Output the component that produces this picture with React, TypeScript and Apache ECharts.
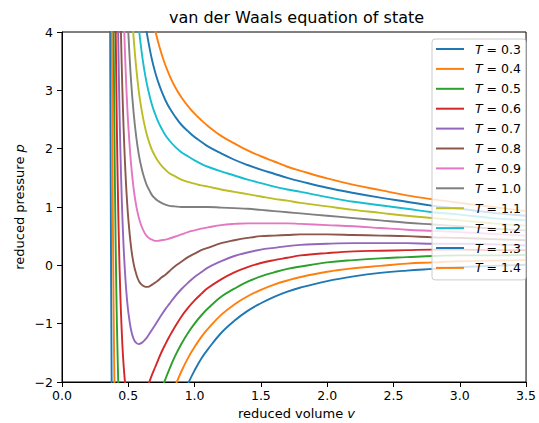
import React, { useEffect, useRef } from "react";
import * as echarts from "echarts";

// reduced volume samples
const V = [0.35, 0.36, 0.37, 0.38, 0.39, 0.40, 0.41, 0.42, 0.43, 0.44, 0.45, 0.46, 0.47, 0.48, 0.49, 0.50,
  0.52, 0.54, 0.56, 0.58, 0.60, 0.62, 0.64, 0.66, 0.68, 0.70, 0.72,
  0.75, 0.78, 0.81, 0.85, 0.90, 0.95, 1.00, 1.05, 1.10,
  1.20, 1.30, 1.40, 1.50, 1.60, 1.70, 1.80,
  2.00, 2.20, 2.40, 2.60, 2.80, 3.00, 3.25, 3.50];

const T_LABELS = ["0.3", "0.4", "0.5", "0.6", "0.7", "0.8", "0.9", "1.0", "1.1", "1.2", "1.3", "1.4"];

const P_03 = [23.51, 6.85, -0.10, -3.63, -5.61, -6.75, -7.41, -7.78, -7.95, -8.00, -7.96, -7.86, -7.73, -7.57, -7.39, -7.20,
  -6.81, -6.42, -6.04, -5.67, -5.33, -5.01, -4.72, -4.44, -4.18, -3.94, -3.72,
  -3.41, -3.14, -2.89, -2.60, -2.29, -2.03, -1.80, -1.60, -1.44,
  -1.16, -0.95, -0.78, -0.65, -0.54, -0.45, -0.38,
  -0.27, -0.19, -0.13, -0.09, -0.06, -0.03, -0.01, 0.01];
const P_04 = [39.51, 16.85, 7.18, 2.08, -0.90, -2.75, -3.93, -4.70, -5.19, -5.50, -5.67, -5.76, -5.78, -5.75, -5.69, -5.60,
  -5.38, -5.13, -4.86, -4.59, -4.33, -4.08, -3.85, -3.62, -3.41, -3.21, -3.03,
  -2.77, -2.54, -2.33, -2.09, -1.82, -1.59, -1.40, -1.23, -1.09,
  -0.85, -0.67, -0.53, -0.42, -0.33, -0.26, -0.20,
  -0.11, -0.05, -0.01, 0.03, 0.05, 0.07, 0.08, 0.09];
const P_05 = [55.51, 26.85, 14.45, 7.80, 3.81, 1.25, -0.46, -1.62, -2.43, -3.00, -3.39, -3.65, -3.83, -3.93, -3.98, -4.00,
  -3.95, -3.84, -3.68, -3.51, -3.33, -3.15, -2.98, -2.81, -2.64, -2.49, -2.34,
  -2.13, -1.95, -1.78, -1.57, -1.35, -1.16, -1.00, -0.86, -0.74,
  -0.54, -0.40, -0.28, -0.19, -0.12, -0.06, -0.02,
  0.05, 0.09, 0.12, 0.14, 0.16, 0.17, 0.17, 0.18];
const P_06 = [71.51, 36.85, 21.72, 13.51, 8.51, 5.25, 3.02, 1.45, 0.33, -0.50, -1.10, -1.55, -1.87, -2.11, -2.28, -2.40,
  -2.52, -2.55, -2.51, -2.43, -2.33, -2.22, -2.11, -1.99, -1.87, -1.76, -1.65,
  -1.49, -1.35, -1.22, -1.06, -0.88, -0.73, -0.60, -0.49, -0.39,
  -0.24, -0.12, -0.03, 0.04, 0.09, 0.13, 0.17,
  0.21, 0.24, 0.25, 0.26, 0.27, 0.27, 0.26, 0.26];
const P_07 = [87.51, 46.85, 29.00, 19.22, 13.22, 9.25, 6.50, 4.53, 3.09, 2.00, 1.19, 0.56, 0.08, -0.29, -0.58, -0.80,
  -1.10, -1.26, -1.33, -1.35, -1.33, -1.29, -1.24, -1.17, -1.10, -1.03, -0.96,
  -0.85, -0.75, -0.66, -0.54, -0.41, -0.30, -0.20, -0.12, -0.04,
  0.07, 0.16, 0.22, 0.27, 0.30, 0.33, 0.35,
  0.37, 0.38, 0.38, 0.38, 0.37, 0.37, 0.36, 0.34];
const P_08 = [103.51, 56.85, 36.27, 24.94, 17.92, 13.25, 9.98, 7.61, 5.84, 4.50, 3.47, 2.66, 2.03, 1.52, 1.12, 0.80,
  0.33, 0.03, -0.15, -0.27, -0.33, -0.36, -0.37, -0.36, -0.33, -0.30, -0.27,
  -0.21, -0.16, -0.10, -0.02, 0.06, 0.14, 0.20, 0.26, 0.30,
  0.38, 0.43, 0.47, 0.50, 0.51, 0.52, 0.53,
  0.53, 0.52, 0.51, 0.50, 0.48, 0.47, 0.45, 0.43];
const P_09 = [119.51, 66.85, 43.54, 30.65, 22.63, 17.25, 13.46, 10.69, 8.60, 7.00, 5.76, 4.77, 3.98, 3.34, 2.82, 2.40,
  1.76, 1.32, 1.02, 0.81, 0.67, 0.57, 0.50, 0.46, 0.44, 0.42, 0.42,
  0.43, 0.44, 0.46, 0.49, 0.53, 0.57, 0.60, 0.63, 0.65,
  0.69, 0.71, 0.72, 0.72, 0.72, 0.72, 0.71,
  0.69, 0.67, 0.64, 0.61, 0.59, 0.57, 0.54, 0.51];
const P_10 = [135.51, 76.85, 50.81, 36.37, 27.33, 21.25, 16.94, 13.76, 11.36, 9.50, 8.04, 6.87, 5.93, 5.16, 4.53, 4.00,
  3.19, 2.62, 2.20, 1.89, 1.67, 1.50, 1.37, 1.28, 1.20, 1.15, 1.11,
  1.07, 1.04, 1.02, 1.01, 1.00, 1.00, 1.00, 1.00, 1.00,
  0.99, 0.98, 0.97, 0.95, 0.93, 0.91, 0.89,
  0.85, 0.81, 0.77, 0.73, 0.70, 0.67, 0.63, 0.60];
const P_11 = [151.51, 86.85, 58.09, 42.08, 32.04, 25.25, 20.41, 16.84, 14.12, 12.00, 10.33, 8.98, 7.88, 6.98, 6.23, 5.60,
  4.62, 3.91, 3.38, 2.97, 2.67, 2.43, 2.24, 2.09, 1.97, 1.88, 1.80,
  1.71, 1.64, 1.58, 1.53, 1.47, 1.43, 1.40, 1.37, 1.35,
  1.30, 1.26, 1.22, 1.18, 1.14, 1.11, 1.07,
  1.01, 0.95, 0.90, 0.85, 0.81, 0.77, 0.72, 0.68];
const P_12 = [167.51, 96.85, 65.36, 47.80, 36.75, 29.25, 23.89, 19.92, 16.88, 14.50, 12.61, 11.09, 9.83, 8.80, 7.93, 7.20,
  6.05, 5.20, 4.55, 4.06, 3.67, 3.36, 3.11, 2.91, 2.74, 2.61, 2.49,
  2.35, 2.23, 2.14, 2.04, 1.94, 1.87, 1.80, 1.74, 1.69,
  1.61, 1.54, 1.47, 1.41, 1.35, 1.30, 1.26,
  1.17, 1.09, 1.03, 0.97, 0.91, 0.87, 0.81, 0.77];
const P_13 = [183.51, 106.85, 72.63, 53.51, 41.45, 33.25, 27.37, 22.99, 19.64, 17.00, 14.90, 13.19, 11.79, 10.62, 9.63, 8.80,
  7.48, 6.49, 5.73, 5.14, 4.67, 4.29, 3.98, 3.73, 3.51, 3.33, 3.18,
  2.99, 2.83, 2.70, 2.56, 2.41, 2.30, 2.20, 2.12, 2.04,
  1.92, 1.81, 1.72, 1.64, 1.57, 1.50, 1.44,
  1.33, 1.24, 1.16, 1.09, 1.02, 0.97, 0.90, 0.85];
const P_14 = [199.51, 116.85, 79.90, 59.22, 46.16, 37.25, 30.85, 26.07, 22.40, 19.50, 17.19, 15.30, 13.74, 12.43, 11.33, 10.40,
  8.91, 7.78, 6.90, 6.22, 5.67, 5.22, 4.85, 4.54, 4.28, 4.06, 3.87,
  3.63, 3.43, 3.26, 3.07, 2.88, 2.73, 2.60, 2.49, 2.39,
  2.22, 2.09, 1.97, 1.87, 1.78, 1.69, 1.62,
  1.49, 1.38, 1.29, 1.20, 1.13, 1.07, 1.00, 0.93];

const CURVES = [P_03, P_04, P_05, P_06, P_07, P_08, P_09, P_10, P_11, P_12, P_13, P_14];

const COLORS = ["#1f77b4", "#ff7f0e", "#2ca02c", "#d62728", "#9467bd", "#8c564b",
  "#e377c2", "#7f7f7f", "#bcbd22", "#17becf", "#1f77b4", "#ff7f0e"];

const FONT = '"DejaVu Sans", sans-serif';

export default function App() {
  const ref = useRef<HTMLDivElement>(null);

  useEffect(() => {
    if (!ref.current) return;
    const chart = echarts.init(ref.current, undefined, { renderer: "svg" });

    const series = CURVES.map((p, k) => ({
      name: "T = " + T_LABELS[k],
      type: "line",
      data: V.map((v, i) => [v, p[i]]),
      symbol: "none",
      showSymbol: false,
      smooth: 0.4,
      clip: true,
      silent: true,
      lineStyle: { color: COLORS[k], width: 1.9 },
      itemStyle: { color: COLORS[k] },
      emphasis: { disabled: true },
    }));

    chart.setOption({
      animation: false,
      backgroundColor: "#fff",
      grid: { left: 62, right: 8, top: 32, bottom: 41, show: true, borderColor: "#000", borderWidth: 1, backgroundColor: "transparent" },
      xAxis: {
        type: "value", min: 0, max: 3.5, interval: 0.5,
        axisLine: { show: true, onZero: false, lineStyle: { color: "#000", width: 1 } },
        axisTick: { show: true, inside: false, length: 5, lineStyle: { color: "#000" } },
        splitLine: { show: false },
        axisLabel: { color: "#000", fontFamily: FONT, fontSize: 12.5, margin: 7, formatter: (v: number) => v.toFixed(1) },
      },
      yAxis: {
        type: "value", min: -2, max: 4, interval: 1,
        axisLine: { show: true, onZero: false, lineStyle: { color: "#000", width: 1 } },
        axisTick: { show: true, inside: false, length: 5, lineStyle: { color: "#000" } },
        splitLine: { show: false },
        axisLabel: { color: "#000", fontFamily: FONT, fontSize: 12.5, margin: 9, formatter: (v: number) => String(v).replace("-", "\u2212") },
      },
      legend: {
        orient: "vertical",
        left: 432, top: 39,
        padding: [2, 5, 4, 4],
        itemGap: 3.9,
        itemWidth: 28, itemHeight: 2,
        icon: "rect",
        backgroundColor: "rgba(255,255,255,0.8)",
        borderColor: "#cccccc", borderWidth: 1, borderRadius: 3,
        selectedMode: false,
        data: series.map((s, k) => ({ name: s.name, itemStyle: { color: COLORS[k] } })),
        formatter: (name: string) => {
          const val = name.split("= ")[1];
          return "{i|T}{n| = " + val + "}";
        },
        textStyle: {
          color: "#000", fontFamily: FONT, fontSize: 12.5, lineHeight: 16,
          rich: {
            i: { fontStyle: "italic", fontFamily: FONT, fontSize: 12.5, color: "#000", padding: [0, 0, 0, 6], lineHeight: 16 },
            n: { fontFamily: FONT, fontSize: 12.5, color: "#000", lineHeight: 16 },
          },
        },
      },
      graphic: [
        {
          type: "text", x: 296.5, y: 17, silent: true,
          style: {
            text: "van der Waals equation of state", fill: "#000",
            font: '16px "DejaVu Sans", sans-serif',
            textAlign: "center", textVerticalAlign: "middle", align: "center", verticalAlign: "middle",
          },
        },
        {
          type: "text", x: 296.5, y: 413, silent: true,
          style: {
            text: "reduced volume {i|v}", fill: "#000",
            font: '13px "DejaVu Sans", sans-serif',
            rich: { i: { fontStyle: "italic", fontSize: 13, fontFamily: FONT, fill: "#000" } },
            textAlign: "center", textVerticalAlign: "middle", align: "center", verticalAlign: "middle",
          },
        },
        {
          type: "text", x: 19, y: 207, rotation: Math.PI / 2, silent: true,
          style: {
            text: "reduced pressure {i|p}", fill: "#000",
            font: '13px "DejaVu Sans", sans-serif',
            rich: { i: { fontStyle: "italic", fontSize: 13, fontFamily: FONT, fill: "#000" } },
            textAlign: "center", textVerticalAlign: "middle", align: "center", verticalAlign: "middle",
          },
        },
      ],
      series,
    });

    return () => chart.dispose();
  }, []);

  return <div ref={ref} style={{ position: "fixed", left: 0, top: 0, width: 539, height: 423 }} />;
}
